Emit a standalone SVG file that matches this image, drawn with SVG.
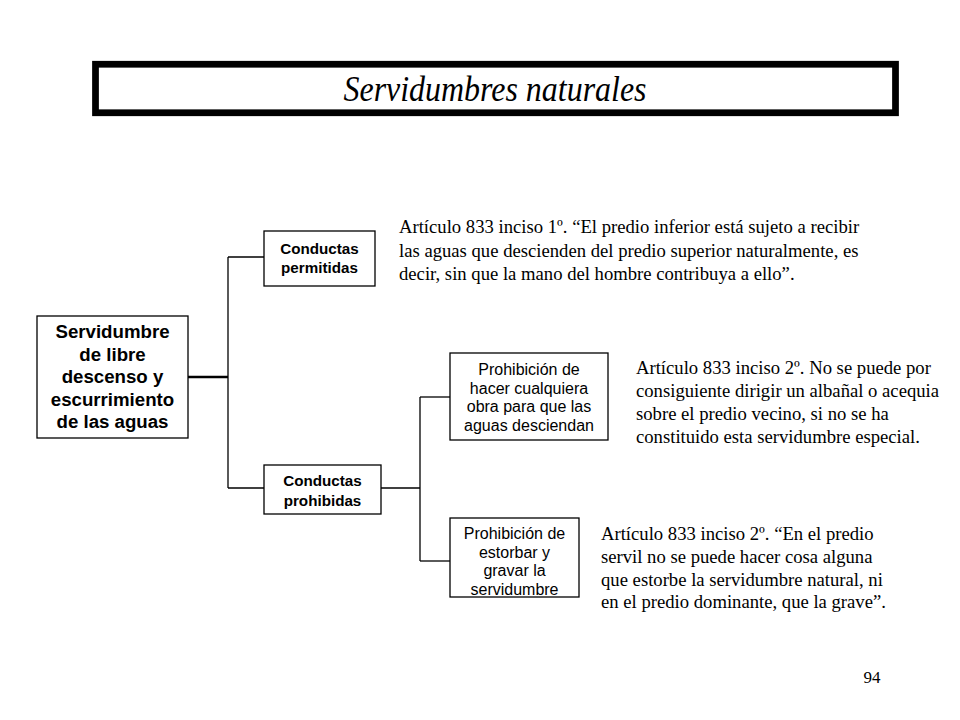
<svg xmlns="http://www.w3.org/2000/svg" width="960" height="720" viewBox="0 0 960 720">
<style>
.box{fill:#fff;stroke:#000;stroke-width:1.3}
.b19{font-family:"Liberation Sans",Arial,sans-serif;font-weight:bold;font-size:18.67px;text-anchor:middle}
.b15{font-family:"Liberation Sans",Arial,sans-serif;font-weight:bold;font-size:15.2px;text-anchor:middle}
.r16{font-family:"Liberation Sans",Arial,sans-serif;font-size:16px;text-anchor:middle}
.ser{font-family:"Liberation Serif","Times New Roman",serif;font-size:18.67px}
.conn line{stroke:#000;stroke-width:1.3}
</style>
<rect width="960" height="720" fill="#fff"/>
<g id="title">
<rect x="95.5" y="64.25" width="800" height="48.5" fill="#fff" stroke="#000" stroke-width="6.75"/>
<text x="495" y="101" font-family="Liberation Serif,Times New Roman,serif" font-style="italic" font-size="36" text-anchor="middle" textLength="303" lengthAdjust="spacingAndGlyphs">Servidumbres naturales</text>
</g>
<g id="connectors" class="conn">
<line x1="188" y1="377" x2="228" y2="377" style="stroke-width:2.6"/>
<line x1="228" y1="257" x2="228" y2="488"/>
<line x1="228" y1="257" x2="264" y2="257"/>
<line x1="228" y1="488" x2="264" y2="488"/>
<line x1="381" y1="488" x2="420" y2="488"/>
<line x1="420" y1="397" x2="420" y2="561"/>
<line x1="420" y1="397" x2="450" y2="397"/>
<line x1="420" y1="561" x2="450" y2="561"/>
</g>
<g id="main">
<rect class="box" x="37" y="316" width="151" height="122"/>
<text class="b19" x="112.5" y="338">Servidumbre</text>
<text class="b19" x="112.5" y="360.5">de libre</text>
<text class="b19" x="112.5" y="383">descenso y</text>
<text class="b19" x="112.5" y="405.5">escurrimiento</text>
<text class="b19" x="112.5" y="428">de las aguas</text>
</g>
<g id="permitidas">
<rect class="box" x="264" y="231" width="111" height="55"/>
<text class="b15" x="319.5" y="253.5">Conductas</text>
<text class="b15" x="319.5" y="273">permitidas</text>
</g>
<g id="prohibidas">
<rect class="box" x="264" y="465" width="117" height="49"/>
<text class="b15" x="322.5" y="486">Conductas</text>
<text class="b15" x="322.5" y="506">prohibidas</text>
</g>
<g id="prohib1">
<rect class="box" x="450" y="353" width="158" height="87"/>
<text class="r16" x="529" y="375">Prohibición de</text>
<text class="r16" x="529" y="393.5">hacer cualquiera</text>
<text class="r16" x="529" y="412">obra para que las</text>
<text class="r16" x="529" y="431">aguas desciendan</text>
</g>
<g id="prohib2">
<rect class="box" x="450" y="518" width="129" height="79"/>
<text class="r16" x="514.5" y="539">Prohibición de</text>
<text class="r16" x="514.5" y="557.5">estorbar y</text>
<text class="r16" x="514.5" y="576">gravar la</text>
<text class="r16" x="514.5" y="595">servidumbre</text>
</g>
<g id="art1">
<text class="ser" x="399" y="233">Artículo 833 inciso 1º. “El predio inferior está sujeto a recibir</text>
<text class="ser" x="399" y="256.5">las aguas que descienden del predio superior naturalmente, es</text>
<text class="ser" x="399" y="280">decir, sin que la mano del hombre contribuya a ello”.</text>
</g>
<g id="art2">
<text class="ser" x="636" y="374">Artículo 833 inciso 2º. No se puede por</text>
<text class="ser" x="636" y="397">consiguiente dirigir un albañal o acequia</text>
<text class="ser" x="636" y="420">sobre el predio vecino, si no se ha</text>
<text class="ser" x="636" y="443">constituido esta servidumbre especial.</text>
</g>
<g id="art3">
<text class="ser" x="601" y="540">Artículo 833 inciso 2º. “En el predio</text>
<text class="ser" x="601" y="563">servil no se puede hacer cosa alguna</text>
<text class="ser" x="601" y="586">que estorbe la servidumbre natural, ni</text>
<text class="ser" x="601" y="608">en el predio dominante, que la grave”.</text>
</g>
<text x="872" y="683" font-family="Liberation Serif,Times New Roman,serif" font-size="17" text-anchor="middle">94</text>
</svg>
